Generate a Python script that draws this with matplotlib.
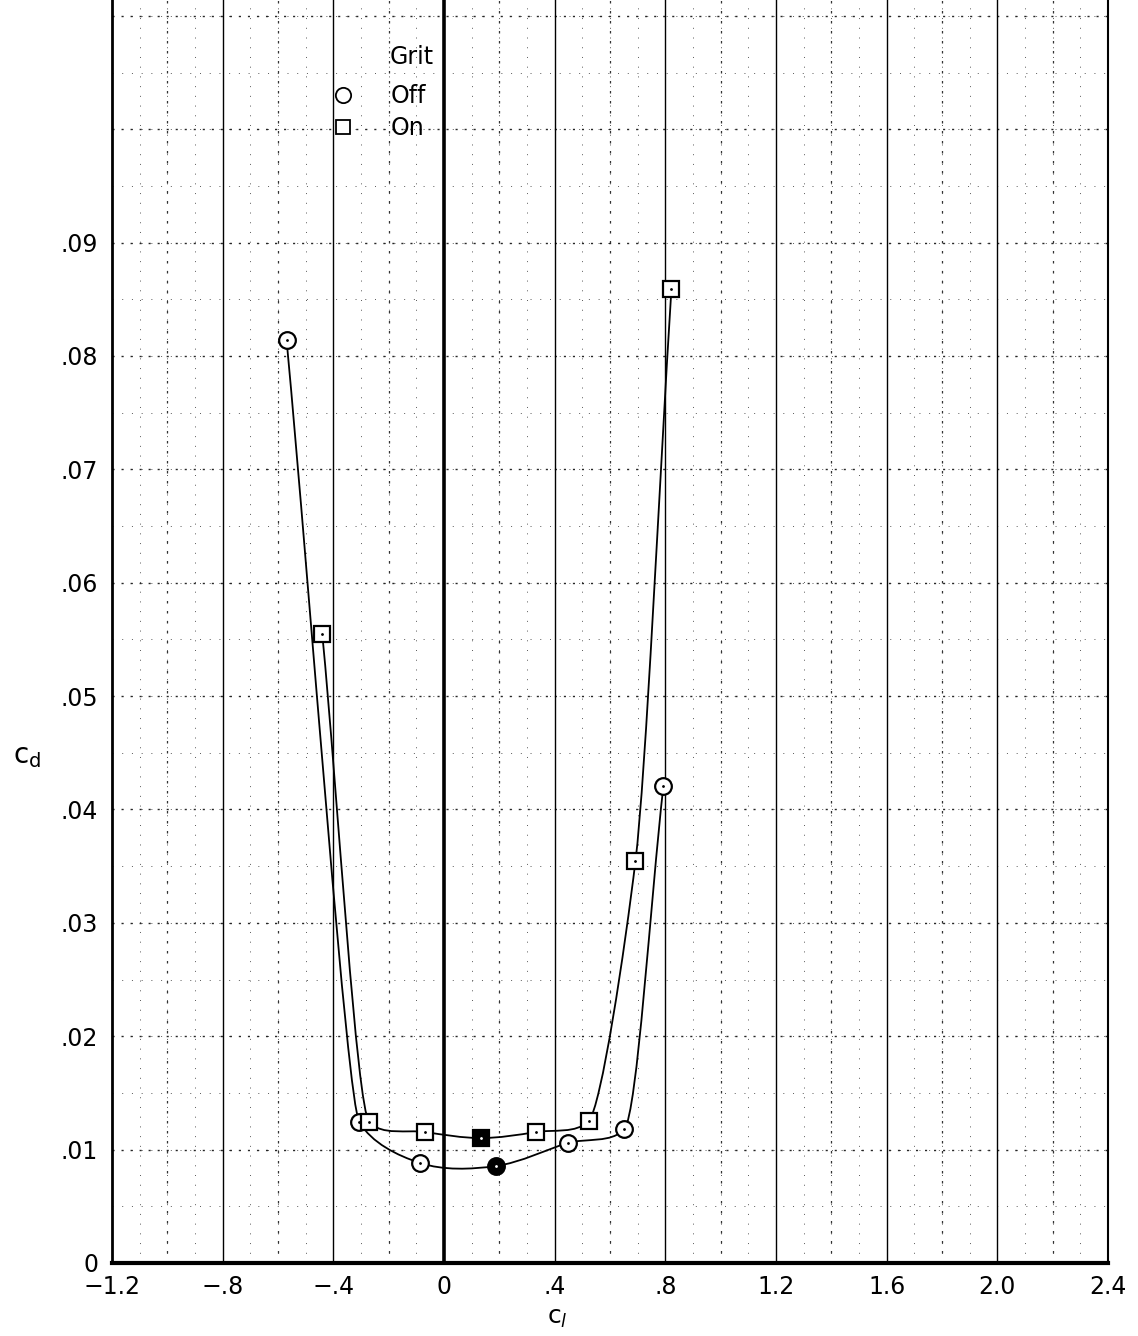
import numpy as np
import matplotlib
matplotlib.use("Agg")
import matplotlib.pyplot as plt
from matplotlib.path import Path
from matplotlib.patches import PathPatch
from matplotlib.lines import Line2D

# Data
off_cl = [-0.569, -0.306, -0.086, 0.187, 0.447, 0.652, 0.793]
off_cd = [0.0814, 0.01243, 0.00882, 0.00855, 0.01058, 0.01182, 0.04206]
off_rep = [False, False, False, True, False, False, False]

on_cl = [-0.440, -0.270, -0.068, 0.133, 0.332, 0.523, 0.692, 0.822]
on_cd = [0.05547, 0.01243, 0.01155, 0.01102, 0.01155, 0.01252, 0.03545, 0.08589]
on_rep = [False, False, False, True, False, False, False, False]

x_ticks = [-1.2, -0.8, -0.4, 0, 0.4, 0.8, 1.2, 1.6, 2.0, 2.4]
x_labels = ["\u22121.2", "\u2212.8", "\u2212.4", "0", ".4", ".8", "1.2", "1.6", "2.0", "2.4"]
y_ticks = [0, 0.01, 0.02, 0.03, 0.04, 0.05, 0.06, 0.07, 0.08, 0.09]
y_labels = ["0", ".01", ".02", ".03", ".04", ".05", ".06", ".07", ".08", ".09"]

plt.rcParams['font.family'] = ['DejaVu Sans']

fig = plt.figure(figsize=(11.38, 13.36), dpi=100)
ax = fig.add_axes([112 / 1138, 73 / 1336, 996 / 1138, 1263 / 1336])
ax.set_xlim(-1.2, 2.4)
ax.set_ylim(0, 0.1114)


def faired(ax, xs, ys):
    # smooth curve through the points; tangent lengths limited by the
    # shorter neighbouring chord so the long legs stay almost straight
    T = ax.transData
    p = T.transform(np.column_stack([xs, ys]))
    n = len(p)
    chord = [np.linalg.norm(p[i + 1] - p[i]) for i in range(n - 1)]
    tang, mag = [], []
    for i in range(n):
        if i == 0:
            d = p[1] - p[0]
            m = chord[0] / 3
        elif i == n - 1:
            d = p[-1] - p[-2]
            m = chord[-1] / 3
        else:
            a = (p[i] - p[i - 1]) / chord[i - 1]
            b = (p[i + 1] - p[i]) / chord[i]
            d = a + b
            m = min(chord[i - 1], chord[i]) / 3
        tang.append(d / np.linalg.norm(d))
        mag.append(m)
    verts = [p[0]]
    codes = [Path.MOVETO]
    for i in range(n - 1):
        verts += [p[i] + tang[i] * min(mag[i], chord[i] / 3),
                  p[i + 1] - tang[i + 1] * min(mag[i + 1], chord[i] / 3),
                  p[i + 1]]
        codes += [Path.CURVE4] * 3
    verts = T.inverted().transform(np.array(verts))
    ax.add_patch(PathPatch(Path(verts, codes), fill=False, lw=1.3,
                           edgecolor='black', zorder=3))


# grid, paper style
for x in np.arange(-1.1, 2.4, 0.1):
    ax.axvline(x, color='0.35', lw=0.7, ls=(0, (1, 9)), zorder=1)
for y in np.arange(0.005, 0.111, 0.005):
    ax.axhline(y, color='0.35', lw=0.7, ls=(0, (1, 9)), zorder=1)
for x in np.arange(-1.0, 2.4, 0.4):
    ax.axvline(x, color='0.2', lw=0.9, ls=(0, (2, 6)), zorder=1)
for y in np.arange(0.01, 0.112, 0.01):
    ax.axhline(y, color='0.15', lw=1.0, ls=(0, (1.5, 5)), zorder=1)
for x in [-0.8, -0.4, 0.4, 0.8, 1.2, 1.6, 2.0]:
    ax.axvline(x, color='black', lw=1.0, zorder=1)
ax.axvline(0, color='black', lw=2.6, zorder=2)

faired(ax, off_cl, off_cd)
faired(ax, on_cl, on_cd)

for x, y, r in zip(off_cl, off_cd, off_rep):
    ax.plot(x, y, 'o', ms=12, mfc='black' if r else 'white', mec='black', mew=1.6, zorder=4)
    ax.plot(x, y, '.', ms=2, color='white' if r else 'black', zorder=5)
for x, y, r in zip(on_cl, on_cd, on_rep):
    ax.plot(x, y, 's', ms=11, mfc='black' if r else 'white', mec='black', mew=1.6, zorder=4)
    ax.plot(x, y, '.', ms=2, color='white' if r else 'black', zorder=5)

ax.spines['top'].set_visible(False)
ax.spines['left'].set_linewidth(2.0)
ax.spines['bottom'].set_linewidth(3.0)
ax.spines['right'].set_linewidth(1.5)

ax.set_xticks(x_ticks)
ax.set_xticklabels(x_labels, fontsize=17)
ax.set_yticks(y_ticks)
ax.set_yticklabels(y_labels, fontsize=17)
ax.tick_params(length=0, pad=10)
ax.tick_params(axis='x', pad=9)

fig.text(27 / 1138, 1 - 756 / 1336, "c$_\\mathrm{d}$", fontsize=20, ha='center', va='center')
fig.text(557 / 1138, 1 - 1318 / 1336, "c$_l$", fontsize=18, ha='center', va='center')

# legend
fig.text(412 / 1138, 1 - 57 / 1336, "Grit", fontsize=17, ha='center', va='center')
handles = [Line2D([], [], marker='o', ls='none', ms=11, mfc='white', mec='black', mew=1.3),
           Line2D([], [], marker='s', ls='none', ms=10, mfc='white', mec='black', mew=1.3)]
leg = ax.legend(handles, ["Off", "On"], loc='center left',
                bbox_to_anchor=(329 / 1138, 1 - 112 / 1336), bbox_transform=fig.transFigure,
                frameon=False, fontsize=17, handlelength=1.2, handletextpad=1.4,
                labelspacing=0.35, borderaxespad=0, borderpad=0)

fig.savefig("out.png", dpi=100)
